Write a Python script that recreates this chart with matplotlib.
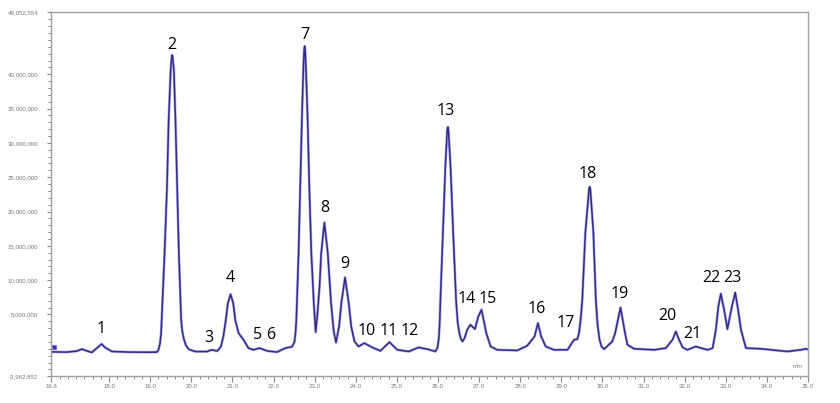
import matplotlib
matplotlib.use("Agg")
from matplotlib import pyplot as plt
from matplotlib.ticker import FixedLocator, MultipleLocator
import numpy as np

# trace: retention time (min) and signal (millions)
rt = [16.60, 16.97, 17.21, 17.34, 17.46, 17.58, 17.72, 17.82, 17.90, 18.07,
      18.50, 19.00, 19.16, 19.20, 19.24, 19.265, 19.28, 19.35, 19.41, 19.45,
      19.50, 19.52, 19.535, 19.55, 19.576, 19.615, 19.657, 19.698, 19.754, 19.78,
      19.82, 19.87, 19.93, 19.97, 20.10, 20.38,
      20.50, 20.63, 20.72, 20.78, 20.84, 20.89, 20.955, 21.02, 21.07, 21.15,
      21.27, 21.39, 21.51, 21.66, 21.84, 22.08, 22.29, 22.45, 22.51, 22.535, 22.555,
      22.61, 22.65, 22.69, 22.725, 22.745, 22.757, 22.77, 22.79, 22.83, 22.87, 22.92, 22.98,
      23.025, 23.07, 23.12, 23.16, 23.237, 23.32, 23.40, 23.465, 23.52, 23.595,
      23.65, 23.74, 23.83, 23.89, 23.97, 24.07, 24.21, 24.40, 24.60, 24.82,
      25.01, 25.29, 25.53, 25.74, 25.94, 25.99, 26.02, 26.04, 26.06, 26.12, 26.18,
      26.225, 26.24, 26.255, 26.305, 26.37, 26.44, 26.48, 26.52, 26.56, 26.60, 26.65,
      26.71, 26.79, 26.90, 26.98, 27.06,
      27.175, 27.28, 27.44, 27.93, 28.17, 28.35, 28.43, 28.51, 28.62, 28.82,
      29.15, 29.31, 29.39, 29.43, 29.47, 29.51, 29.585, 29.675, 29.69, 29.705,
      29.78, 29.84, 29.88, 29.93, 29.98,
      30.04, 30.24, 30.31, 30.44, 30.55, 30.61, 30.77, 31.26, 31.54, 31.705,
      31.785, 31.865, 31.95, 32.07, 32.27, 32.40, 32.56, 32.68, 32.76, 32.82,
      32.88, 32.96, 33.04, 33.15, 33.23, 33.30, 33.37, 33.49, 33.855, 34.50,
      34.83, 34.95, 35.00]
signal = [-0.45, -0.48, -0.34, -0.05, -0.30, -0.53, 0.20, 0.70, 0.20, -0.39,
          -0.48, -0.50, -0.48, -0.20, 0.8, 2.2, 4.2, 13.9, 23.7, 33.4,
          40.7, 42.3, 42.8, 42.3, 40.7, 33.4, 23.7, 13.9, 4.2, 2.6,
          1.4, 0.5, 0.0, -0.15, -0.40, -0.40,
          -0.15, -0.32, 0.30, 1.8, 4.2, 6.66, 7.95, 6.66, 4.2, 2.29,
          1.31, 0.10, -0.15, 0.10, -0.30, -0.48, 0.10, 0.30, 1.0, 2.3, 4.2,
          13.95, 23.7, 33.4, 40.7, 43.6, 44.1, 43.6, 40.7, 33.4, 23.7, 13.95, 6.66,
          2.43, 5.2, 9.08, 13.95, 18.4, 13.95, 6.66, 2.52, 0.92, 3.25,
          6.66, 10.4, 6.66, 3.25, 1.07, 0.34, 0.83, 0.20, -0.30, 0.97,
          -0.15, -0.39, 0.20, -0.05, -0.39, 0.20, 1.5, 3.5, 7.14, 16.9, 26.6,
          31.9, 32.3, 31.9, 26.6, 16.9, 7.14, 3.8, 2.29, 1.4, 1.07, 1.6,
          2.77, 3.5, 2.87, 4.7, 5.69,
          2.29, 0.34, -0.15, -0.24, 0.44, 1.8, 3.74, 1.8, 0.34, -0.15,
          -0.15, 1.31, 1.41, 2.29, 4.2, 7.14, 16.9, 23.3, 23.6, 23.3,
          16.9, 7.14, 3.6, 1.31, 0.3,
          -0.05, 1.07, 2.29, 6.0, 2.29, 0.58, 0.0, -0.15, 0.10, 1.31,
          2.52, 1.31, 0.20, -0.15, 0.34, 0.10, -0.15, 0.10, 2.77, 6.17,
          8.02, 5.69, 2.87, 6.17, 8.2, 5.69, 2.77, 0.10, 0.0, -0.39,
          -0.15, 0.0, -0.10]

# peak numbers and where they sit (time, signal in millions)
peak_names = [str(i) for i in range(1, 24)]
label_rt = [17.80, 19.53, 20.436, 20.946, 21.61, 21.92, 22.757, 23.237, 23.74, 24.276,
            24.79, 25.31, 26.184, 26.71, 27.22, 28.39, 29.106, 29.636, 30.42, 31.584,
            32.177, 32.65, 33.16]
label_sig = [2.86, 44.29, 1.60, 10.29, 2.03, 2.03, 45.75, 20.54, 12.35, 2.57,
             2.57, 2.57, 34.59, 7.28, 7.28, 5.82, 3.73, 25.41, 8.00, 4.84,
             2.13, 10.29, 10.29]

y_min = -3962852
y_max = 49052554
x_major = [16.6] + list(range(18, 36))
y_major = [y_min, 5e6, 10e6, 15e6, 20e6, 25e6, 30e6, 35e6, 40e6, y_max]

fig = plt.figure(figsize=(8.4, 4.03), dpi=100)
ax = fig.add_axes([0.0613, 0.067, 0.9006, 0.903])

y = np.array(signal) * 1e6
ax.plot(rt, y, color="#7262cc", lw=2.0, alpha=0.5, solid_joinstyle="round")
ax.plot(rt, y, color="#302c8a", lw=1.1, solid_joinstyle="round")
ax.plot([16.66], [0.3e6], marker="s", ms=3.5, mfc="#3a2a9a", mec="#8a6ae0", mew=0.8)

for name, t, s in zip(peak_names, label_rt, label_sig):
    ax.text(t, s * 1e6, name, ha="center", va="center", fontsize=11.5,
            family=["Open Sans", "DejaVu Sans"], color="black")

ax.set_xlim(16.6, 35.0)
ax.set_ylim(y_min, y_max)

ax.xaxis.set_major_locator(FixedLocator(x_major))
ax.set_xticklabels(["%.1f" % v for v in x_major])
ax.xaxis.set_minor_locator(MultipleLocator(0.2))
ax.yaxis.set_major_locator(FixedLocator(y_major))
ax.set_yticklabels(["{:,}".format(int(v)) for v in y_major])
ax.yaxis.set_minor_locator(MultipleLocator(1e6))

for lab in ax.get_xticklabels() + ax.get_yticklabels():
    lab.set_family(["Liberation Sans", "DejaVu Sans"])
ax.tick_params(axis="both", which="major", labelsize=4.4, labelcolor="#7a7a7a",
               color="#8a8a8a", width=0.8)
ax.tick_params(axis="x", which="major", length=4, pad=2)
ax.tick_params(axis="y", which="major", length=3, pad=6.5)
ax.tick_params(axis="both", which="minor", length=2, color="#8a8a8a", width=0.7)

for sp in ax.spines.values():
    sp.set_color("#a0a0a0")
    sp.set_linewidth(1.0)

ax.text(0.993, 0.02, "min", transform=ax.transAxes, ha="right", va="bottom",
        fontsize=4.4, color="#7a7a7a", family=["Liberation Sans", "DejaVu Sans"])

fig.savefig("out.png", dpi=100)
